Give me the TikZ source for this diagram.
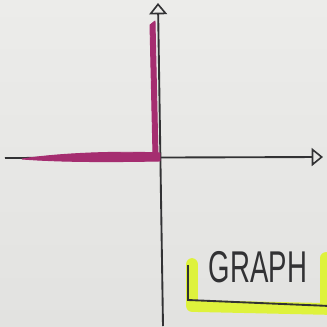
\documentclass[tikz,border=0pt]{standalone}
\usepackage{fontspec}
\setmainfont{Liberation Sans}
\usepackage{graphicx}
\usepackage{xcolor}
\usetikzlibrary{arrows.meta}
\definecolor{paper}{RGB}{226,226,224}
\definecolor{paperlight}{RGB}{236,236,234}
\definecolor{ink}{RGB}{50,50,52}
\definecolor{marker}{RGB}{165,45,112}
\definecolor{hilite}{RGB}{222,242,60}

\begin{document}
\begin{tikzpicture}[
  x=0.03cm, y=-0.03cm,
  axis/.style={draw=ink, line width=1.6pt, -{Triangle[open, length=3.4mm, width=5.4mm, line width=1.4pt]}},
  pen/.style={fill=marker, draw=marker, line width=0.8pt, line join=round},
  hl/.style={draw=hilite, line width=10pt, line cap=round, line join=round}]
\shade[top color=paperlight, bottom color=paper] (0,0) rectangle (327,326);
\useasboundingbox (0,0) rectangle (327,326);
% axes
\coordinate (origin) at (158,157);
\coordinate (xstart) at (5,158);
\coordinate (xend) at (323,157);
\coordinate (ystart) at (163,326);
\coordinate (yend) at (158,3);
\draw[axis] (xstart) -- (xend);
\draw[axis] (ystart) -- (yend);
% marker strokes
\fill[pen] (22,159) .. controls (60,153) and (120,151) .. (160,153) -- (160,161) .. controls (110,162) and (60,162) .. (22,159) -- cycle;
\fill[pen] (150,25) -- (155,21) -- (158,156) -- (153,156) -- cycle;
% label
\draw[hl] (192,264) -- (192,306) -- (330,309);
\draw[hl] (326,258) -- (326,302);
\draw[ink, line width=1.6pt] (188,265) -- (188,300) -- (330,306);
\node[text=ink, font=\fontsize{38}{38}\selectfont] (graphlabel) at (258,267) {\scalebox{0.62}[1]{GRAPH}};
\end{tikzpicture}
\end{document}
